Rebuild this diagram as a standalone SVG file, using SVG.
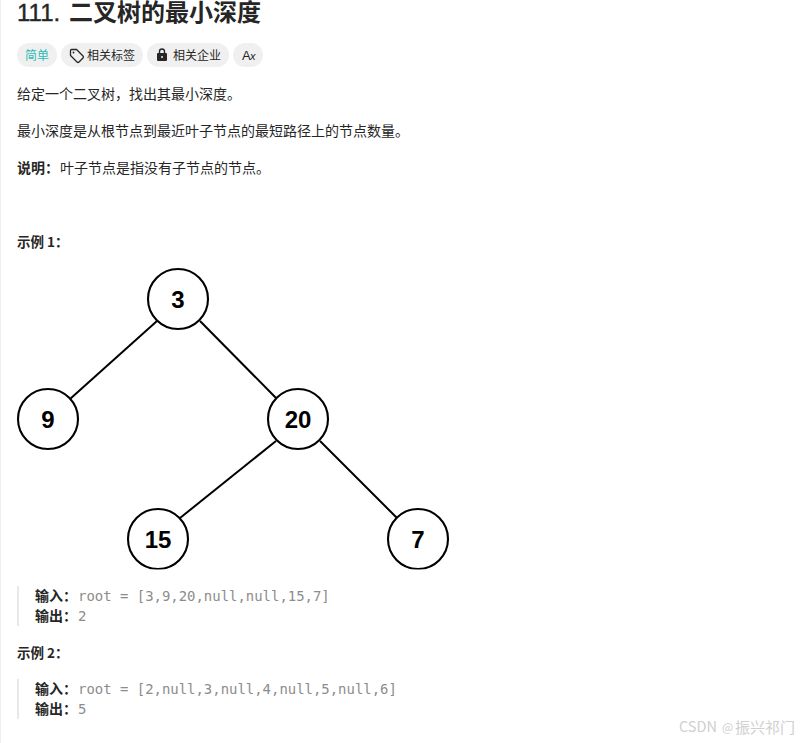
<svg xmlns="http://www.w3.org/2000/svg" width="807" height="743" viewBox="0 0 807 743">
<defs>
<style>
text{font-family:"Noto Sans CJK SC","Liberation Sans",sans-serif;fill:#262626;font-size:14px}
.b{font-weight:700}
.pill{fill:#f0f0f0}
.m{font-family:"DejaVu Sans Mono","Liberation Mono",monospace;font-size:13.94px;fill:#8c8c8c}
.bar{fill:#e8e8e8}
.lbl{font-size:12px;fill:#262626}
.wm{fill:#cfcfcf}
.n circle{fill:#fff;stroke:#000;stroke-width:2.1}
.n text{font-family:"Liberation Sans",Arial,sans-serif;font-weight:700;font-size:24px;fill:#000;text-anchor:middle}
.e line{stroke:#000;stroke-width:2}
</style>
<clipPath id="c"><rect x="0" y="260" width="807" height="309.500"/></clipPath>
</defs>
<rect width="807" height="743" fill="#fff"/>
<rect x="0" y="0" width="1" height="743" fill="#efefef"/>
<text x="17" y="21" style="font-family:'Liberation Sans',sans-serif;font-size:24px;stroke:#262626;stroke-width:0.4">111.</text>
<text x="69" y="21" class="b" style="font-size:24px">二叉树的最小深度</text>
<rect class="pill" x="17" y="43" width="40" height="24" rx="12"/>
<text x="25" y="60" style="font-size:12px;fill:#2cbbb4">简单</text>
<rect class="pill" x="61" y="43" width="82" height="24" rx="12"/>
<path d="M70.500 50.500 V55.500 L77 62 Q78 63 79 62 L83 58 Q84 57 83 56 L76.500 49.500 H71.500 Q70.500 49.500 70.500 50.500Z" fill="none" stroke="#262626" stroke-width="1.300"/>
<circle cx="73.500" cy="52.500" r="0.900" fill="#262626"/>
<text x="87" y="60" class="lbl">相关标签</text>
<rect class="pill" x="147" y="43" width="82" height="24" rx="12"/>
<rect x="157" y="53" width="10" height="8" rx="1" fill="#262626"/>
<path d="M159.500 53.500 V51.500 A2.500 2.500 0 0 1 164.500 51.500 V53.500" fill="none" stroke="#262626" stroke-width="1.400"/>
<circle cx="162" cy="57" r="1" fill="#f0f0f0"/>
<text x="173" y="60" class="lbl">相关企业</text>
<rect class="pill" x="233" y="43" width="30" height="24" rx="12"/>
<text x="242" y="59.500" style="font-family:'Liberation Sans',sans-serif;font-size:13px">A</text>
<text x="250" y="60" style="font-family:'Liberation Sans',sans-serif;font-size:11px;font-style:italic">x</text>
<text x="17" y="99">给定一个二叉树，找出其最小深度。</text>
<text x="17" y="136">最小深度是从根节点到最近叶子节点的最短路径上的节点数量。</text>
<text x="17" y="173" class="b">说明：</text>
<text x="60" y="173">叶子节点是指没有子节点的节点。</text>
<text x="17" y="247" class="b" style="font-size:13.500px">示例 1：</text>
<g class="e" clip-path="url(#c)">
<line x1="157" y1="321" x2="70" y2="399"/>
<line x1="200" y1="321" x2="277" y2="399"/>
<line x1="276" y1="441" x2="180" y2="518"/>
<line x1="320" y1="441" x2="397" y2="518"/>
</g>
<g class="n" id="node-3"><circle cx="178" cy="299" r="30"/><text x="178" y="308">3</text></g>
<g class="n" id="node-9"><circle cx="48" cy="419" r="30"/><text x="48" y="428">9</text></g>
<g class="n" id="node-20"><circle cx="298" cy="419" r="30"/><text x="298" y="428">20</text></g>
<g class="n" id="node-15" clip-path="url(#c)"><circle cx="158" cy="539" r="30"/><text x="158" y="548">15</text></g>
<g class="n" id="node-7" clip-path="url(#c)"><circle cx="418" cy="539" r="30"/><text x="418" y="548">7</text></g>
<rect class="bar" x="17" y="586" width="2" height="40"/>
<text x="35" y="601" class="b">输入：</text>
<text x="78" y="601" class="m" xml:space="preserve">root = [3,9,20,null,null,15,7]</text>
<text x="35" y="621" class="b">输出：</text>
<text x="78" y="621" class="m">2</text>
<text x="17" y="658" class="b" style="font-size:13.500px">示例 2：</text>
<rect class="bar" x="17" y="679" width="2" height="40"/>
<text x="35" y="694" class="b">输入：</text>
<text x="78" y="694" class="m" xml:space="preserve">root = [2,null,3,null,4,null,5,null,6]</text>
<text x="35" y="714" class="b">输出：</text>
<text x="78" y="714" class="m">5</text>
<text x="679" y="732" class="wm" style="font-size:14.500px">CSDN <tspan x="722" style="font-size:12px">@</tspan><tspan x="735" y="733" style="font-size:15px">振兴祁门</tspan></text>
</svg>
